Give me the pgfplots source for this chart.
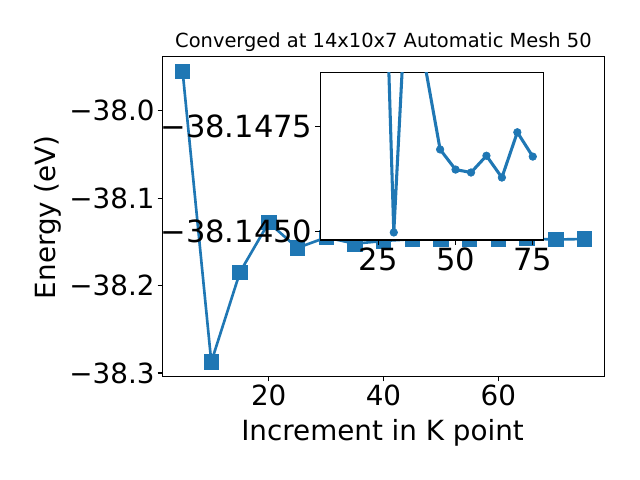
\documentclass[border=0pt]{standalone}
\usepackage{fontspec}
\setmainfont{DejaVu Sans}
\usepackage{pgfplots}
\pgfplotsset{compat=1.18}
\definecolor{mplblue}{HTML}{1F77B4}
\pgfplotstableread{
x y
5 -37.9549
10 -38.2874
15 -38.1846
20 -38.1280
25 -38.1570
30 -38.14497
35 -38.1521
40 -38.1490
45 -38.14695
50 -38.14647
55 -38.14640
60 -38.14680
65 -38.14628
70 -38.14736
75 -38.14678
}\maindata
\pgfplotstableread{
x y
25 -38.1570
30 -38.14497
35 -38.1521
40 -38.1490
45 -38.14695
50 -38.14647
55 -38.14640
60 -38.14680
65 -38.14628
70 -38.14736
75 -38.14678
}\insetdata
\begin{document}
\begin{tikzpicture}[x=1pt,y=1pt]
\path[use as bounding box] (0,0) rectangle (460.8,345.6);
\begin{axis}[
  at={(117pt,74.52pt)}, anchor=south west,
  width=318.24pt, height=230.26pt, scale only axis,
  xmin=1.5, xmax=78.5, ymin=-38.3040, ymax=-37.9383,
  xtick={20,40,60}, xticklabels={20,40,60},
  ytick={-38.3,-38.2,-38.1,-38.0},
  yticklabels={−38.3,−38.2,−38.1,−38.0},
  tick align=outside, tick pos=left,
  major tick length=3.5pt,
  every tick/.style={black, line width=0.8pt},
  axis line style={line width=0.8pt},
  ticklabel style={font=\fontsize{20}{24}\selectfont},
  yticklabel style={anchor=east, inner sep=0pt, xshift=-2pt},
  xticklabel style={anchor=north, inner sep=0pt, yshift=-2pt},
]
\addplot[color=mplblue, line width=1.9pt, mark=square*, mark size=5.2pt,
  mark options={fill=mplblue, draw=mplblue, line width=0.5pt}] table[x=x,y=y] {\maindata};
\end{axis}
\begin{axis}[
  at={(230.6pt,172.8pt)}, anchor=south west,
  width=160.56pt, height=120.74pt, scale only axis,
  axis background/.style={fill=white},
  xmin=6.2, xmax=78.4, ymin=-38.14879, ymax=-38.14479, y dir=reverse,
  xtick={25,50,75}, xticklabels={25,50,75},
  ytick={-38.1475,-38.1450},
  yticklabels={−38.1475,−38.1450},
  tick align=outside, tick pos=left,
  major tick length=3.5pt,
  every tick/.style={black, line width=0.8pt},
  axis line style={line width=0.8pt},
  ticklabel style={font=\fontsize{22}{26}\selectfont},
  yticklabel style={anchor=east, inner sep=0pt, xshift=-2pt},
  xticklabel style={anchor=north, inner sep=0pt, yshift=-2pt},
]
\addplot[color=mplblue, line width=2.2pt, mark=*, mark size=2.7pt,
  mark options={fill=mplblue, draw=mplblue, line width=0.5pt}] table[x=x,y=y] {\insetdata};
\end{axis}
\node[anchor=base, font=\fontsize{14}{17}\selectfont] at (276.1,311.2) {Converged at 14x10x7 Automatic Mesh 50};
\node[anchor=base, font=\fontsize{20}{24}\selectfont] at (275.4,28.3) {Increment in K point};
\node[anchor=base, rotate=90, font=\fontsize{20}{24}\selectfont] at (39.6,189.2) {Energy (eV)};
\end{tikzpicture}
\end{document}
